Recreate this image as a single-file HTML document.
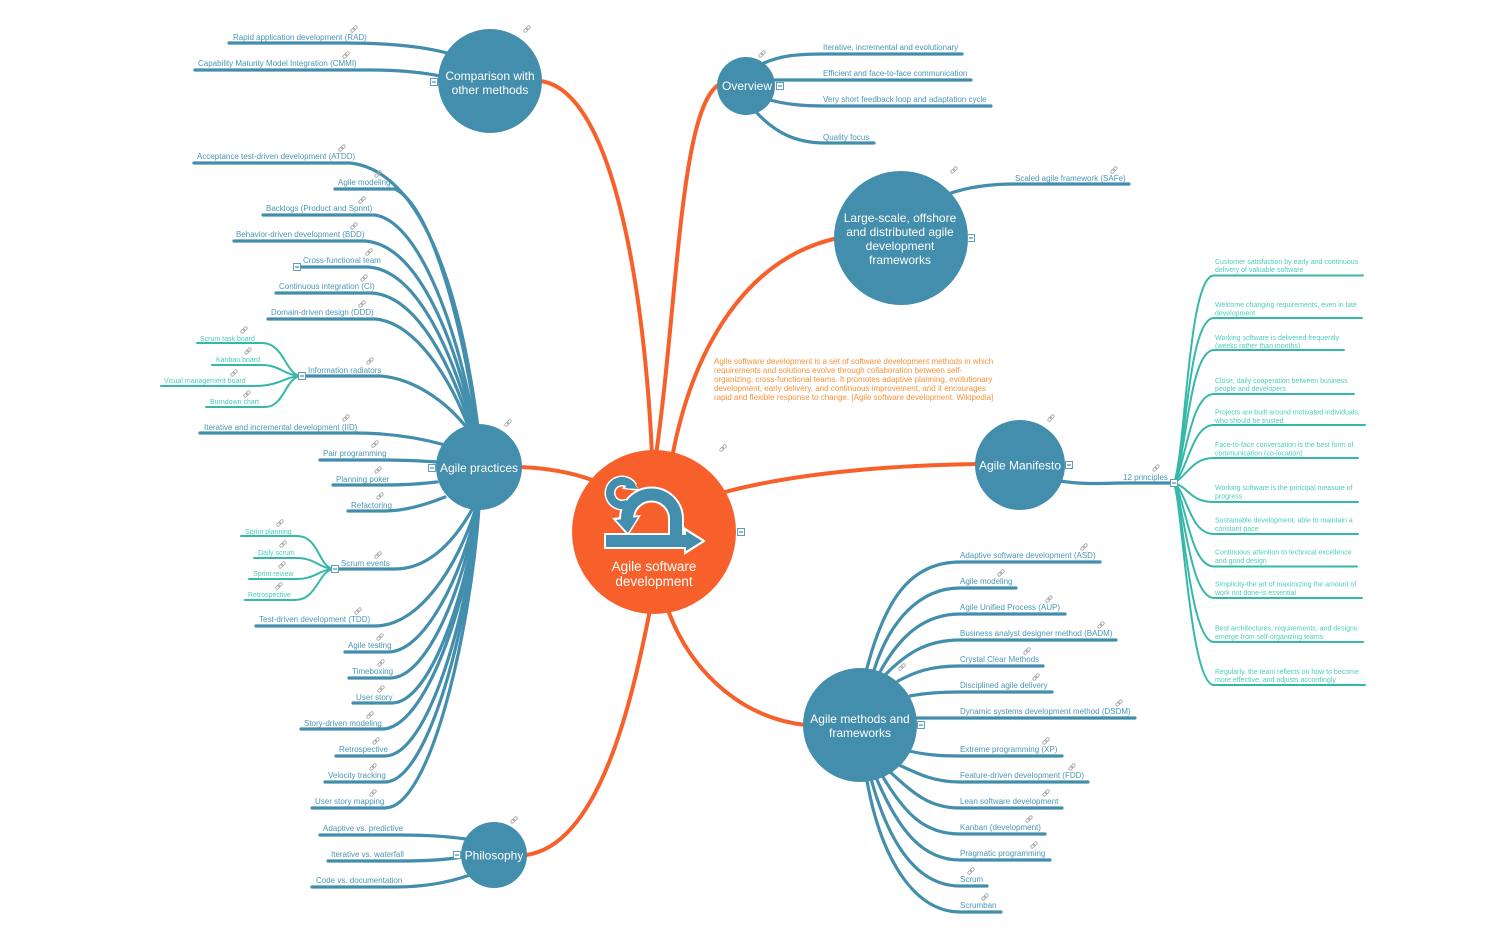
<!DOCTYPE html>
<html><head><meta charset="utf-8"><title>Agile software development</title>
<style>
html,body{margin:0;padding:0;background:#fff}
svg{display:block}
text{font-family:"Liberation Sans",sans-serif}
.l{font-size:8px;fill:#4b96b6}
.s{font-size:7px;fill:#45cdb9}
.p{font-size:7px;fill:#4ccdbb}
.n{fill:#fff;text-anchor:middle;font-size:12px}
.d{font-size:8px;fill:#f7923c}
.b path{fill:none;stroke:#438ead;stroke-width:3.2;stroke-linecap:round}
.t path{fill:none;stroke:#36b8a8;stroke-width:2;stroke-linecap:round}
.o path{fill:none;stroke:#f8602b;stroke-width:4;stroke-linecap:round}
</style></head><body>
<svg width="1500" height="940" viewBox="0 0 1500 940" xmlns="http://www.w3.org/2000/svg">
<defs>
<g id="k"><g transform="rotate(-45)" fill="none" stroke="#a9a9a9" stroke-width="0.9"><rect x="-4" y="-1.4" width="4.6" height="2.8" rx="1.4"/><rect x="-0.6" y="-1.4" width="4.6" height="2.8" rx="1.4"/></g></g>
<g id="g"><rect x="-3.5" y="-3.500" width="7" height="7" fill="#fff" stroke="#5d9fbd" stroke-width="1"/><path d="M-2,0H2" stroke="#438ead" stroke-width="1.2"/></g>
</defs>

<g class="o">
<path d="M652,455C645,300 615,90 540,81"/>
<path d="M656,455C678,300 680,105 720,84"/>
<path d="M672,458C692,350 745,258 838,238"/>
<path d="M725,492C800,472 900,465 978,464"/>
<path d="M668,610C690,670 740,718 806,725"/>
<path d="M650,610C632,700 600,845 526,855"/>
<path d="M592,480C570,472 545,468 520,467"/>
</g>

<g class="b">
<path d="M229,43H345C385,43 420,46 447,53"/>
<path d="M195,70H370C395,70 420,72 440,76"/>
<path d="M764,63C780,56 795,54 825,54H962"/>
<path d="M770,80C785,80 800,80 825,80H971"/>
<path d="M770,100C785,104 800,106 825,106H991"/>
<path d="M757,113C775,132 795,143 825,143H874"/>
<path d="M948,194C965,188 985,184 1015,184H1129"/>
<path d="M1060,481C1085,485 1105,483 1125,483H1172"/>

<path d="M194,163H350C415,170 458,270 478,428"/>
<path d="M335,189H395C430,205 462,320 477,428"/>
<path d="M263,215H375C420,222 458,330 475,428"/>
<path d="M234,241H365C420,245 456,345 474,428"/>
<path d="M301,267H368C418,270 453,355 473,428"/>
<path d="M276,293H372C418,296 452,368 471,428"/>
<path d="M268,319H375C415,322 450,378 469,428"/>
<path d="M306,376H380C412,378 445,400 467,428"/>
<path d="M200,433H355C390,433 420,438 445,445"/>
<path d="M320,460H385C405,460 420,461 438,462"/>
<path d="M333,485H385C405,485 420,484 437,482"/>
<path d="M348,511H385C405,511 425,505 445,497"/>
<path d="M339,569H395C430,569 455,540 473,508"/>
<path d="M256,626H375C420,626 458,565 476,508"/>
<path d="M345,652H388C425,652 462,575 477,508"/>
<path d="M349,678H390C428,678 464,585 477,508"/>
<path d="M353,703H392C430,703 466,595 478,508"/>
<path d="M301,729H382C425,729 467,605 478,508"/>
<path d="M336,756H385C428,756 468,615 478,508"/>
<path d="M325,782H385C428,782 469,625 478,508"/>
<path d="M312,808H385C430,808 470,635 479,508"/>

<path d="M320,835H400C425,835 445,836 466,839"/>
<path d="M328,861H400C425,861 445,860 462,857"/>
<path d="M312,887H395C425,887 450,882 470,875"/>

<path d="M867,668C885,600 910,562 960,562H1100"/>
<path d="M874,670C890,620 920,588 960,588H1016"/>
<path d="M880,672C900,635 925,614 960,614H1065"/>
<path d="M886,674C905,655 925,640 960,640H1116"/>
<path d="M898,681C915,672 930,666 960,666H1043"/>
<path d="M910,696C925,693 940,692 960,692H1052"/>
<path d="M912,718H1135"/>
<path d="M905,750C925,755 940,756 960,756H1062"/>
<path d="M895,763C920,775 935,782 960,782H1088"/>
<path d="M888,770C915,795 930,808 960,808H1062"/>
<path d="M880,772C905,815 925,834 960,834H1045"/>
<path d="M875,775C900,835 925,860 960,860H1050"/>
<path d="M870,775C890,850 920,886 960,886H987"/>
<path d="M866,775C880,860 915,912 960,912H1001"/>
</g>

<g class="t">
<path d="M197,343H262C285,343 285,376 302,376"/>
<path d="M212,365H262C280,365 285,376 302,376"/>
<path d="M161,386H255C280,386 285,376 302,376"/>
<path d="M206,407H265C285,407 285,376 302,376"/>
<path d="M241,536H297C320,536 318,569 335,569"/>
<path d="M254,558H297C315,558 320,569 335,569"/>
<path d="M249,579H297C315,579 320,569 335,569"/>
<path d="M245,600H295C318,600 318,569 335,569"/>
<path d="M1174,483C1186,450 1188,275.500 1214,275.500H1363"/>
<path d="M1174,483C1186,455 1188,318 1214,318H1362"/>
<path d="M1174,483C1186,460 1189,350 1214,350H1344"/>
<path d="M1174,483C1186,465 1190,394 1214,394H1354"/>
<path d="M1174,483C1188,470 1192,425 1214,425H1365"/>
<path d="M1174,483C1188,475 1192,458 1214,458H1358"/>
<path d="M1174,483C1190,488 1190,502 1214,502H1358"/>
<path d="M1174,483C1188,495 1190,534 1214,534H1358"/>
<path d="M1174,483C1186,500 1190,566.500 1214,566.500H1357"/>
<path d="M1174,483C1184,505 1190,598 1214,598H1362"/>
<path d="M1174,483C1183,508 1190,642 1214,642H1363"/>
<path d="M1174,483C1183,510 1190,685 1214,685H1365"/>
</g>

<g fill="#438ead">
<circle cx="490" cy="81" r="52"/>
<circle cx="746" cy="86" r="29"/>
<circle cx="901" cy="238" r="67"/>
<circle cx="1020" cy="465" r="45"/>
<circle cx="860" cy="725" r="57"/>
<circle cx="494" cy="855" r="33"/>
<circle cx="479" cy="467" r="43"/>
</g>
<circle cx="654" cy="532" r="82" fill="#f8602b"/>

<!-- scrum icon -->
<g fill="none" stroke="#fff">
<path d="M632.400,487A12,12 0 1 0 628,503.400" stroke-width="11"/>
<path d="M676,537V519A24.500,24.500 0 0 0 627,519V522" stroke-width="16"/>
</g>
<g fill="#fff"><path d="M604,533H684V527L706,541L684,555V549H604Z"/><path d="M612,518L641,515L628,536Z"/><path d="M630,477L640,491L622,489Z"/></g>
<g fill="none" stroke="#438ead">
<path d="M632.400,487A12,12 0 1 0 628,503.400" stroke-width="8"/>
<path d="M676,537V519A24.500,24.500 0 0 0 627,519V522" stroke-width="12"/>
</g>
<g fill="#438ead"><path d="M606,535H686V531L702,541L686,551V547H606Z"/><path d="M616,520L638,517L628,533Z"/><path d="M631,480L638,489L625,488Z"/></g>

<text class="n" style="font-size:13.5px" x="654" y="571">Agile software</text>
<text class="n" style="font-size:13.5px" x="654" y="586">development</text>
<text class="n" x="490" y="80">Comparison with</text>
<text class="n" x="490" y="94">other methods</text>
<text class="n" x="747" y="90">Overview</text>
<text class="n" x="900" y="222">Large-scale, offshore</text>
<text class="n" x="900" y="236">and distributed agile</text>
<text class="n" x="900" y="250">development</text>
<text class="n" x="900" y="264">frameworks</text>
<text class="n" x="1020" y="469.500">Agile Manifesto</text>
<text class="n" x="860" y="723">Agile methods and</text>
<text class="n" x="860" y="737">frameworks</text>
<text class="n" x="494" y="859.500">Philosophy</text>
<text class="n" x="479" y="472">Agile practices</text>

<g class="l">
<text x="233" y="40">Rapid application development (RAD)</text>
<text x="198" y="66">Capability Maturity Model Integration (CMMI)</text>
<text x="823" y="50">Iterative, incremental and evolutionary</text>
<text x="823" y="76">Efficient and face-to-face communication</text>
<text x="823" y="102">Very short feedback loop and adaptation cycle</text>
<text x="823" y="140">Quality focus</text>
<text x="1015" y="181">Scaled agile framework (SAFe)</text>
<text x="1123" y="480">12 principles</text>
<text x="197" y="159">Acceptance test-driven development (ATDD)</text>
<text x="338" y="185">Agile modeling</text>
<text x="266" y="211">Backlogs (Product and Sprint)</text>
<text x="236" y="237">Behavior-driven development (BDD)</text>
<text x="303" y="263">Cross-functional team</text>
<text x="279" y="289">Continuous integration (CI)</text>
<text x="271" y="315">Domain-driven design (DDD)</text>
<text x="308" y="373">Information radiators</text>
<text x="204" y="430">Iterative and incremental development (IID)</text>
<text x="323" y="456">Pair programming</text>
<text x="336" y="482">Planning poker</text>
<text x="351" y="508">Refactoring</text>
<text x="341" y="566">Scrum events</text>
<text x="259" y="622">Test-driven development (TDD)</text>
<text x="348" y="648">Agile testing</text>
<text x="352" y="674">Timeboxing</text>
<text x="356" y="700">User story</text>
<text x="304" y="726">Story-driven modeling</text>
<text x="339" y="752">Retrospective</text>
<text x="328" y="778">Velocity tracking</text>
<text x="315" y="804">User story mapping</text>
<text x="323" y="831">Adaptive vs. predictive</text>
<text x="331" y="857">Iterative vs. waterfall</text>
<text x="316" y="883">Code vs. documentation</text>
<text x="960" y="558">Adaptive software development (ASD)</text>
<text x="960" y="584">Agile modeling</text>
<text x="960" y="610">Agile Unified Process (AUP)</text>
<text x="960" y="636">Business analyst designer method (BADM)</text>
<text x="960" y="662">Crystal Clear Methods</text>
<text x="960" y="688">Disciplined agile delivery</text>
<text x="960" y="714">Dynamic systems development method (DSDM)</text>
<text x="960" y="752">Extreme programming (XP)</text>
<text x="960" y="778">Feature-driven development (FDD)</text>
<text x="960" y="804">Lean software development</text>
<text x="960" y="830">Kanban (development)</text>
<text x="960" y="856">Pragmatic programming</text>
<text x="960" y="882">Scrum</text>
<text x="960" y="908">Scrumban</text>
</g>

<g class="s">
<text x="200" y="341">Scrum task board</text>
<text x="216" y="362">Kanban board</text>
<text x="164" y="383">Visual management board</text>
<text x="210" y="404">Burndown chart</text>
<text x="245" y="534">Sprint planning</text>
<text x="258" y="555">Daily scrum</text>
<text x="253" y="576">Sprint review</text>
<text x="248" y="597">Retrospective</text>
</g>

<g class="p">
<text x="1215" y="264">Customer satisfaction by early and continuous</text>
<text x="1215" y="272">delivery of valuable software</text>
<text x="1215" y="307">Welcome changing requirements, even in late</text>
<text x="1215" y="315.500">development</text>
<text x="1215" y="340">Working software is delivered frequently</text>
<text x="1215" y="348">(weeks rather than months)</text>
<text x="1215" y="383">Close, daily cooperation between business</text>
<text x="1215" y="391">people and developers</text>
<text x="1215" y="414.500">Projects are built around motivated individuals,</text>
<text x="1215" y="423">who should be trusted</text>
<text x="1215" y="447">Face-to-face conversation is the best form of</text>
<text x="1215" y="455.500">communication (co-location)</text>
<text x="1215" y="490">Working software is the principal measure of</text>
<text x="1215" y="498.500">progress</text>
<text x="1215" y="522.500">Sustainable development, able to maintain a</text>
<text x="1215" y="531">constant pace</text>
<text x="1215" y="554.500">Continuous attention to technical excellence</text>
<text x="1215" y="563">and good design</text>
<text x="1215" y="586.500">Simplicity-the art of maximizing the amount of</text>
<text x="1215" y="595">work not done-is essential</text>
<text x="1215" y="630.500">Best architectures, requirements, and designs</text>
<text x="1215" y="639">emerge from self-organizing teams</text>
<text x="1215" y="674">Regularly, the team reflects on how to become</text>
<text x="1215" y="682">more effective, and adjusts accordingly</text>
</g>

<g class="d">
<text x="714" y="364">Agile software development is a set of software development methods in which</text>
<text x="714" y="373">requirements and solutions evolve through collaboration between self-</text>
<text x="714" y="382">organizing, cross-functional teams. It promotes adaptive planning, evolutionary</text>
<text x="714" y="391">development, early delivery, and continuous improvement, and it encourages</text>
<text x="714" y="400">rapid and flexible response to change. [Agile software development. Wikipedia]</text>
</g>

<g>
<use href="#k" x="527" y="29"/><use href="#k" x="354" y="29"/><use href="#k" x="346" y="55"/><use href="#k" x="762" y="54"/><use href="#k" x="1114" y="170"/><use href="#k" x="954" y="170"/><use href="#k" x="1156" y="468"/><use href="#k" x="1051" y="418"/><use href="#k" x="723" y="448"/><use href="#k" x="508" y="423"/>
<use href="#k" x="342" y="148"/><use href="#k" x="378" y="174"/><use href="#k" x="362" y="200"/><use href="#k" x="354" y="226"/><use href="#k" x="369" y="252"/><use href="#k" x="364" y="278"/><use href="#k" x="362" y="304"/><use href="#k" x="370" y="361"/><use href="#k" x="346" y="418"/><use href="#k" x="375" y="444"/><use href="#k" x="378" y="470"/><use href="#k" x="380" y="496"/><use href="#k" x="378" y="555"/><use href="#k" x="358" y="611"/><use href="#k" x="380" y="637"/><use href="#k" x="381" y="663"/><use href="#k" x="381" y="689"/><use href="#k" x="370" y="715"/><use href="#k" x="376" y="741"/><use href="#k" x="373" y="767"/><use href="#k" x="373" y="793"/>
<use href="#k" x="244" y="330"/><use href="#k" x="248" y="351"/><use href="#k" x="234" y="373"/><use href="#k" x="247" y="394"/><use href="#k" x="280" y="523"/><use href="#k" x="283" y="544"/><use href="#k" x="282" y="565"/><use href="#k" x="279" y="586"/>
<use href="#k" x="1084" y="547"/><use href="#k" x="1001" y="573"/><use href="#k" x="1049" y="599"/><use href="#k" x="1101" y="625"/><use href="#k" x="1027" y="651"/><use href="#k" x="1036" y="677"/><use href="#k" x="1119" y="703"/><use href="#k" x="1046" y="741"/><use href="#k" x="1072" y="767"/><use href="#k" x="1046" y="793"/><use href="#k" x="1029" y="819"/><use href="#k" x="1034" y="845"/><use href="#k" x="971" y="871"/><use href="#k" x="985" y="897"/><use href="#k" x="902" y="667"/><use href="#k" x="514" y="820"/>
</g>
<g>
<use href="#g" x="434" y="82"/><use href="#g" x="780" y="86"/><use href="#g" x="971" y="238"/><use href="#g" x="1069" y="465"/><use href="#g" x="1174" y="483"/><use href="#g" x="921" y="725"/><use href="#g" x="741" y="532"/><use href="#g" x="432" y="468"/><use href="#g" x="457" y="855"/><use href="#g" x="302" y="376"/><use href="#g" x="335" y="569"/><use href="#g" x="297" y="267"/>
</g>
</svg>
</body></html>
